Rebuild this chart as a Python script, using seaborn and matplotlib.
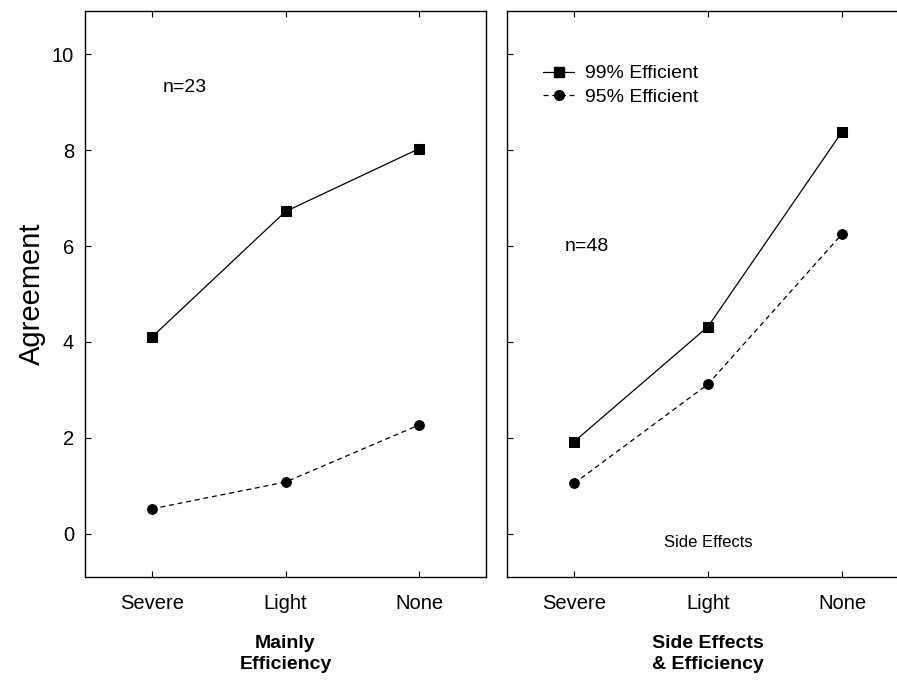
import matplotlib
matplotlib.use("Agg")
import matplotlib.pyplot as plt
import seaborn as sns
import pandas as pd
from matplotlib.lines import Line2D

# data
categories = ["Severe", "Light", "None"]
series_names = ["99% Efficient", "95% Efficient"]
mainly_99 = [4.10, 6.72, 8.03]
mainly_95 = [0.52, 1.08, 2.27]
side_99 = [1.92, 4.32, 8.38]
side_95 = [1.05, 3.12, 6.25]
panel_titles = ["Mainly\nEfficiency", "Side Effects\n& Efficiency"]
panel_n = ["n=23", "n=48"]
y_ticks = [0, 2, 4, 6, 8, 10]

sns.set_theme(style="ticks")
plt.rcParams["font.family"] = ["Liberation Sans", "DejaVu Sans"]
plt.rcParams["text.color"] = "black"
plt.rcParams["axes.labelcolor"] = "black"
plt.rcParams["xtick.color"] = "black"
plt.rcParams["ytick.color"] = "black"

fig = plt.figure(figsize=(8.97, 6.8), dpi=100)
ax1 = fig.add_axes([85 / 897, 1 - 577 / 680, 401 / 897, 566 / 680])
ax2 = fig.add_axes([507 / 897, 1 - 577 / 680, 402 / 897, 566 / 680])

panels = [(ax1, mainly_99, mainly_95), (ax2, side_99, side_95)]
styles = {"99% Efficient": ("s", "-", 7), "95% Efficient": ("o", (0, (4, 3)), 7)}

for i, (ax, s99, s95) in enumerate(panels):
    df = pd.DataFrame({
        "Side effects": categories * 2,
        "Agreement": s99 + s95,
        "Series": [series_names[0]] * 3 + [series_names[1]] * 3,
    })
    for name in series_names:
        sub = df[df["Series"] == name]
        marker, ls, ms = styles[name]
        sns.lineplot(data=sub, x="Side effects", y="Agreement", ax=ax,
                     color="black", marker=marker, linestyle=ls, linewidth=0.9,
                     markersize=ms, markeredgecolor="black", sort=False)
    ax.set_xlim(-0.5, 2.5)
    ax.set_ylim(-0.9, 10.9)
    ax.set_yticks(y_ticks)
    ax.tick_params(direction="in", length=4, width=0.8, top=True,
                   labelsize=14.5, pad=12, color="black")
    ax.tick_params(axis="y", pad=8)
    for sp in ax.spines.values():
        sp.set_linewidth(1.0)
        sp.set_color("black")
    ax.set_xlabel(panel_titles[i], fontsize=14, fontweight="bold",
                  labelpad=16, linespacing=1.3)
    ax.set_ylabel("")

ax1.set_ylabel("Agreement", fontsize=21, labelpad=4)
ax2.tick_params(axis="y", labelleft=False)

ax1.text(0.08, 9.3, panel_n[0], fontsize=14, va="center", ha="left")
ax2.text(-0.07, 5.98, panel_n[1], fontsize=14, va="center", ha="left")
ax2.text(1.0, -0.19, "Side Effects", fontsize=12, va="center", ha="center")

handles = [
    Line2D([], [], color="black", marker="s", linestyle="-", linewidth=0.9, markersize=7),
    Line2D([], [], color="black", marker="o", linestyle=(0, (4, 3)), linewidth=0.9, markersize=7),
]
ax2.legend(handles, series_names, loc="upper left", bbox_to_anchor=(0.09, 0.905),
           frameon=False, fontsize=14, handlelength=1.6, handletextpad=0.55,
           labelspacing=0.3, borderpad=0, borderaxespad=0)

fig.savefig("out.png", dpi=100)
